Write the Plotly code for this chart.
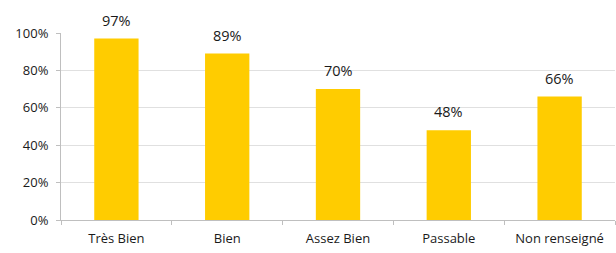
import plotly.graph_objects as go

categories = ["Très Bien", "Bien", "Assez Bien", "Passable", "Non renseigné"]
values = [0.97, 0.89, 0.70, 0.48, 0.66]
labels = ["97%", "89%", "70%", "48%", "66%"]
tick_vals = [0, 0.2, 0.4, 0.6, 0.8, 1.0]
tick_text = ["0%", "20%", "40%", "60%", "80%", "100%"]

fig = go.Figure(go.Bar(
    x=categories, y=values,
    marker=dict(color="#FFCC00", line=dict(width=0)),
    width=0.4, hoverinfo="skip",
))
for c, v, t in zip(categories, values, labels):
    fig.add_annotation(x=c, y=v, text=t, showarrow=False, yanchor="bottom", yshift=7,
                       font=dict(size=14.5, color="#1a1a1a"))
fig.update_layout(
    width=616, height=253, margin=dict(l=61, r=1, t=33, b=33, autoexpand=False),
    plot_bgcolor="white", paper_bgcolor="white",
    font=dict(family="Open Sans", size=12, color="#1a1a1a"),
    showlegend=False,
)
fig.update_xaxes(showline=True, linecolor="#BFBFBF", ticks="outside", tickson="boundaries",
                 tickcolor="#BFBFBF", ticklen=4, tickfont=dict(size=13), automargin=False,
                 ticklabelstandoff=6)
fig.update_yaxes(range=[0, 1], tickvals=tick_vals, ticktext=tick_text, showline=True,
                 linecolor="#BFBFBF", ticks="outside", tickcolor="#BFBFBF", ticklen=4,
                 gridcolor="#E0E0E0", zeroline=False, tickfont=dict(size=13), automargin=False,
                 ticklabelstandoff=5)
fig.write_html("out.html", config={"displayModeBar": False},
               post_script="document.body.style.margin='0';document.body.style.overflow='hidden';")
